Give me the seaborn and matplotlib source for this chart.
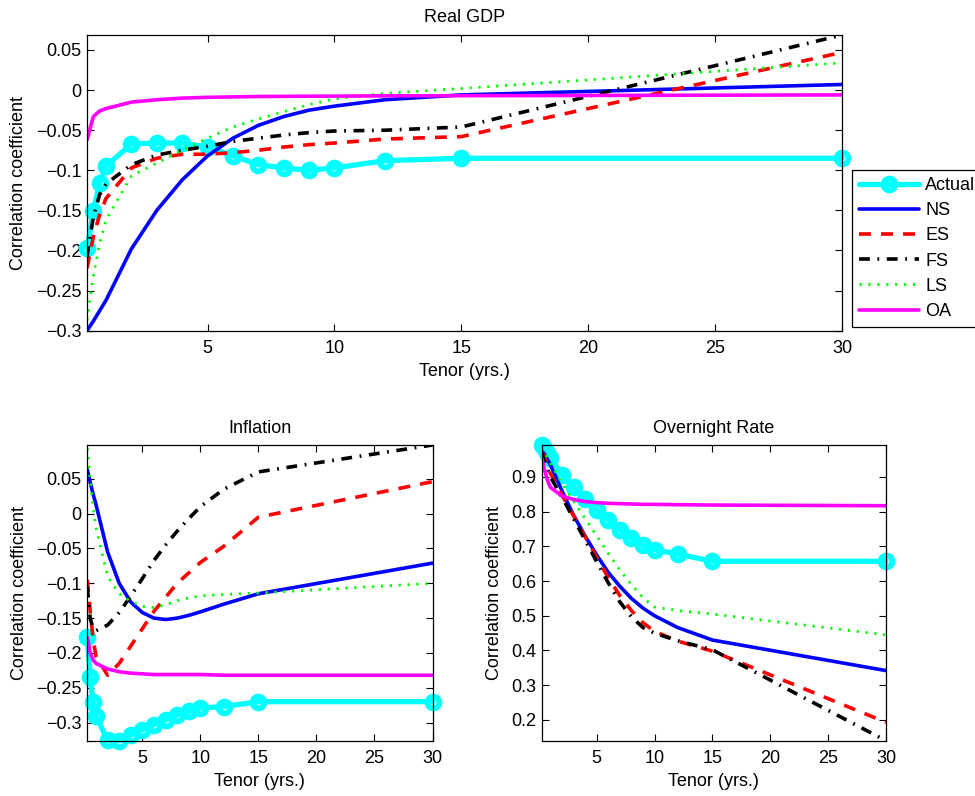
import numpy as np
import pandas as pd
import matplotlib
matplotlib.use("Agg")
import matplotlib.pyplot as plt
import seaborn as sns
from matplotlib.ticker import FuncFormatter

# tenors (years) shared by all series
tenor = [0.25, 0.5, 0.75, 1, 2, 3, 4, 5, 6, 7, 8, 9, 10, 12, 15, 30]
series_names = ["Actual", "NS", "ES", "FS", "LS", "OA"]

# Real GDP
gdp_actual = [-0.197, -0.151, -0.116, -0.095, -0.067, -0.066, -0.066, -0.071,
              -0.082, -0.093, -0.097, -0.100, -0.097, -0.088, -0.085, -0.085]
gdp_ns = [-0.300, -0.288, -0.275, -0.262, -0.198, -0.150, -0.112, -0.082,
          -0.060, -0.044, -0.033, -0.025, -0.020, -0.012, -0.006, 0.007]
gdp_es = [-0.222, -0.183, -0.155, -0.135, -0.097, -0.085, -0.080, -0.080,
          -0.078, -0.075, -0.071, -0.068, -0.066, -0.061, -0.058, 0.047]
gdp_fs = [-0.208, -0.158, -0.130, -0.117, -0.093, -0.081, -0.075, -0.070,
          -0.064, -0.060, -0.056, -0.053, -0.051, -0.050, -0.046, 0.0687]
gdp_ls = [-0.287, -0.232, -0.191, -0.162, -0.107, -0.091, -0.075, -0.060,
          -0.046, -0.036, -0.027, -0.018, -0.011, -0.004, 0.002, 0.034]
gdp_oa = [-0.062, -0.033, -0.026, -0.023, -0.015, -0.012, -0.010, -0.009,
          -0.0085, -0.008, -0.0078, -0.0076, -0.0075, -0.0072, -0.007, -0.006]

# Inflation
inf_actual = [-0.177, -0.235, -0.270, -0.291, -0.325, -0.326, -0.318, -0.310,
              -0.303, -0.296, -0.289, -0.284, -0.279, -0.277, -0.270, -0.270]
inf_ns = [0.063, 0.045, 0.028, 0.013, -0.055, -0.100, -0.127, -0.142,
          -0.150, -0.152, -0.150, -0.146, -0.141, -0.130, -0.115, -0.071]
inf_es = [-0.095, -0.140, -0.180, -0.205, -0.232, -0.215, -0.190, -0.165,
          -0.140, -0.120, -0.100, -0.085, -0.070, -0.047, -0.005, 0.046]
inf_fs = [-0.105, -0.150, -0.165, -0.168, -0.160, -0.142, -0.118, -0.093,
          -0.067, -0.045, -0.025, -0.007, 0.010, 0.035, 0.060, 0.0986]
inf_ls = [0.094, 0.050, 0.010, -0.020, -0.090, -0.115, -0.126, -0.133,
          -0.135, -0.131, -0.125, -0.121, -0.118, -0.116, -0.114, -0.100]
inf_oa = [-0.178, -0.200, -0.210, -0.215, -0.223, -0.227, -0.229, -0.230,
          -0.231, -0.231, -0.231, -0.231, -0.231, -0.232, -0.232, -0.232]

# Overnight rate
on_actual = [0.992, 0.980, 0.968, 0.955, 0.907, 0.872, 0.837, 0.804,
             0.777, 0.748, 0.724, 0.703, 0.690, 0.678, 0.657, 0.657]
on_ns = [0.975, 0.965, 0.950, 0.935, 0.860, 0.790, 0.730, 0.675,
         0.625, 0.585, 0.550, 0.522, 0.500, 0.466, 0.430, 0.342]
on_es = [0.975, 0.955, 0.935, 0.910, 0.848, 0.788, 0.728, 0.668,
         0.610, 0.558, 0.515, 0.480, 0.455, 0.427, 0.398, 0.193]
on_fs = [0.970, 0.945, 0.922, 0.900, 0.842, 0.780, 0.718, 0.656,
         0.595, 0.540, 0.497, 0.466, 0.450, 0.428, 0.402, 0.140]
on_ls = [0.985, 0.970, 0.955, 0.940, 0.882, 0.830, 0.780, 0.730,
         0.680, 0.632, 0.590, 0.552, 0.525, 0.515, 0.505, 0.445]
on_oa = [0.955, 0.920, 0.890, 0.870, 0.845, 0.835, 0.829, 0.826,
         0.824, 0.823, 0.822, 0.821, 0.821, 0.820, 0.819, 0.817]

sns.set_theme(style="white", rc={
    "axes.edgecolor": "black", "axes.labelcolor": "black", "text.color": "black",
    "xtick.color": "black", "ytick.color": "black",
})
plt.rcParams["font.family"] = ["Liberation Sans", "DejaVu Sans"]
FS = 13

styles = {
    "Actual": dict(color="#00ffff", linewidth=3.8, linestyle="-", marker="o",
                   markersize=8.5, markerfacecolor="none", markeredgecolor="#00ffff",
                   markeredgewidth=4.2, clip_on=False),
    "NS": dict(color="#0000ff", linewidth=2.6, linestyle="-"),
    "ES": dict(color="#ff0000", linewidth=2.6, linestyle=(0, (3.3, 2.8))),
    "FS": dict(color="black", linewidth=2.6, linestyle=(0, (3.0, 2.1, 0.5, 2.1))),
    "LS": dict(color="#00ff00", linewidth=2.0, linestyle=(0, (0.8, 2.4))),
    "OA": dict(color="#ff00ff", linewidth=2.6, linestyle="-"),
}


def fmt(v, pos):
    return f"{round(v, 3) + 0.0:g}".replace("-", "\u2212")


def draw_panel(ax, values, title, yticks):
    for name, vals in zip(series_names, values):
        df = pd.DataFrame({"tenor": tenor, "corr": vals})
        sns.lineplot(data=df, x="tenor", y="corr", ax=ax, label=name,
                     errorbar=None, legend=False, **styles[name])
    allv = np.concatenate([np.asarray(v) for v in values])
    ax.set_xlim(min(tenor), max(tenor))
    ax.set_ylim(allv.min(), allv.max())
    ax.set_xticks([5, 10, 15, 20, 25, 30])
    ax.set_yticks(yticks)
    ax.yaxis.set_major_formatter(FuncFormatter(fmt))
    ax.tick_params(direction="in", bottom=True, left=True, top=True, right=True,
                   length=5, width=0.8, labelsize=FS)
    ax.tick_params(axis="x", pad=7)
    ax.tick_params(axis="y", pad=4)
    for sp in ax.spines.values():
        sp.set_color("black")
        sp.set_linewidth(0.9)
    ax.set_title(title, fontsize=FS, pad=9)
    ax.set_xlabel("Tenor (yrs.)", fontsize=FS, labelpad=4)
    ax.set_ylabel("Correlation coefficient", fontsize=FS, labelpad=6)


fig = plt.figure(figsize=(9.75, 7.96), dpi=100)
W, H = 975, 796
ax_top = fig.add_axes([87 / W, 1 - 330.7 / H, 755 / W, 295.7 / H])
ax_inf = fig.add_axes([87.3 / W, 1 - 740.7 / H, 345.2 / W, 295.7 / H])
ax_on = fig.add_axes([541.7 / W, 1 - 740.7 / H, 344.3 / W, 295.7 / H])

draw_panel(ax_top, [gdp_actual, gdp_ns, gdp_es, gdp_fs, gdp_ls, gdp_oa],
           "Real GDP", np.round(np.arange(-0.3, 0.051, 0.05), 2))
draw_panel(ax_inf, [inf_actual, inf_ns, inf_es, inf_fs, inf_ls, inf_oa],
           "Inflation", np.round(np.arange(-0.3, 0.051, 0.05), 2))
draw_panel(ax_on, [on_actual, on_ns, on_es, on_fs, on_ls, on_oa],
           "Overnight Rate", np.round(np.arange(0.2, 0.91, 0.1), 1))

handles, labels = ax_top.get_legend_handles_labels()
leg = fig.legend(handles, labels, loc="upper left",
                 bbox_to_anchor=(852 / W, 1 - 170 / H), borderaxespad=0,
                 frameon=True, fancybox=False, framealpha=1, edgecolor="black",
                 fontsize=FS, handlelength=3.3, handletextpad=0.35,
                 labelspacing=0.45, borderpad=0.4)
leg.get_frame().set_linewidth(0.9)

fig.savefig("out.png", dpi=100)
